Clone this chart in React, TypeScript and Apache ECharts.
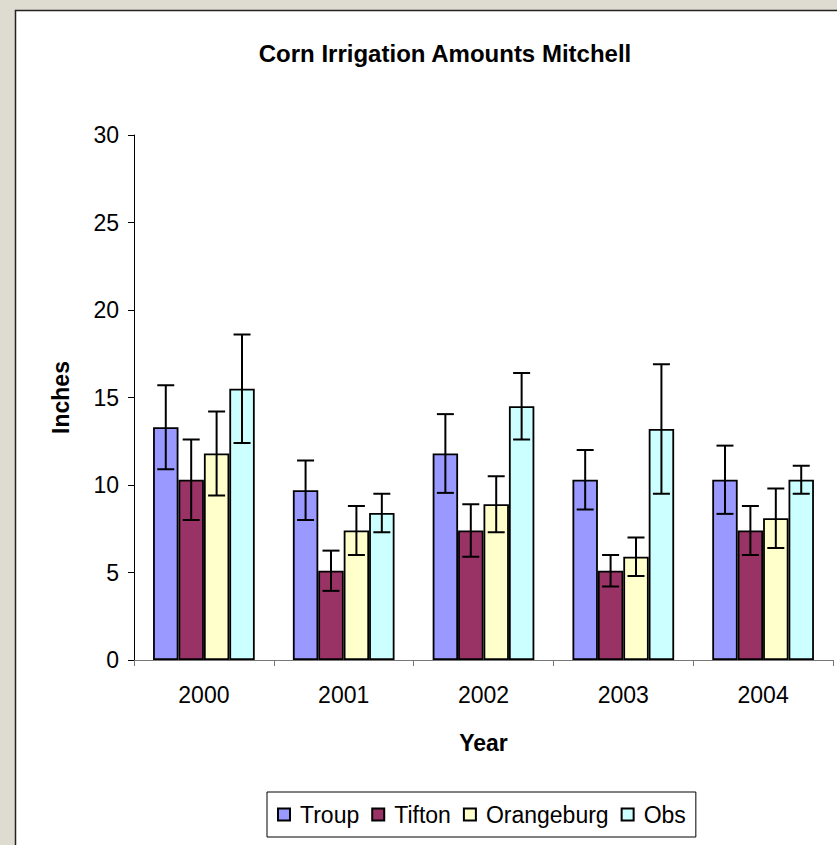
import React, { useEffect, useRef } from "react";
import * as echarts from "echarts";

const years = ["2000", "2001", "2002", "2003", "2004"];
const seriesNames = ["Troup", "Tifton", "Orangeburg", "Obs"];
const troup = [13.3, 9.7, 11.8, 10.3, 10.3];
const troupErr = [2.4, 1.7, 2.25, 1.7, 1.95];
const tifton = [10.3, 5.1, 7.4, 5.1, 7.4];
const tiftonErr = [2.3, 1.15, 1.5, 0.9, 1.4];
const orangeburg = [11.8, 7.4, 8.9, 5.9, 8.1];
const orangeburgErr = [2.4, 1.4, 1.6, 1.1, 1.7];
const obs = [15.5, 8.4, 14.5, 13.2, 10.3];
const obsErr = [3.1, 1.1, 1.9, 3.7, 0.8];
const colors = ["#9999FF", "#993366", "#FFFFCC", "#CCFFFF"];

const FONT = "'Liberation Sans', Arial, sans-serif";

export default function App() {
  const ref = useRef<HTMLDivElement>(null);
  useEffect(() => {
    if (!ref.current) return;
    const chart = echarts.init(ref.current, null, { renderer: "svg" });
    const values = [troup, tifton, orangeburg, obs];
    const errs = [troupErr, tiftonErr, orangeburgErr, obsErr];
    const errData: number[][] = [];
    values.forEach((arr, s) => {
      arr.forEach((v, c) => {
        errData.push([c, v - errs[s][c], v + errs[s][c], s]);
      });
    });
    const option: any = {
      animation: false,
      backgroundColor: "#DEDBD1",
      textStyle: { fontFamily: FONT },
      graphic: [
        {
          type: "rect",
          z: -100,
          silent: true,
          shape: { x: 15.5, y: 10.5, width: 900, height: 900 },
          style: { fill: "#fff", stroke: "#222", lineWidth: 1.5 },
        },
      ],
      title: {
        text: "Corn Irrigation Amounts Mitchell",
        left: 440,
        top: 36,
        textAlign: "center",
        textStyle: { fontFamily: FONT, fontSize: 24, fontWeight: "bold", color: "#000" },
      },
      legend: {
        data: seriesNames,
        left: 267,
        top: 792,
        padding: [11, 10],
        icon: "rect",
        itemWidth: 12,
        itemHeight: 12,
        itemGap: 12,
        borderColor: "#000",
        borderWidth: 1,
        textStyle: { fontFamily: FONT, fontSize: 23, color: "#000", padding: [0, 0, 0, 5] },
      },
      grid: { left: 134, right: 4, top: 135, bottom: 185, containLabel: false, outerBoundsMode: "none" },
      xAxis: {
        type: "category",
        data: years,
        name: "Year",
        nameLocation: "middle",
        nameGap: 71,
        nameTextStyle: { fontFamily: FONT, fontSize: 23, fontWeight: "bold", color: "#000" },
        axisLine: { lineStyle: { color: "#777", width: 1 } },
        axisTick: { show: true, length: 6, lineStyle: { color: "#777" } },
        axisLabel: { fontFamily: FONT, fontSize: 23, color: "#000", margin: 23 },
      },
      yAxis: {
        type: "value",
        min: 0,
        max: 30,
        interval: 5,
        name: "Inches",
        nameLocation: "middle",
        nameGap: 62,
        nameTextStyle: { fontFamily: FONT, fontSize: 23, fontWeight: "bold", color: "#000" },
        splitLine: { show: false },
        axisLine: { show: true, lineStyle: { color: "#000", width: 1 } },
        axisTick: { show: true, length: 6, lineStyle: { color: "#000" } },
        axisLabel: { fontFamily: FONT, fontSize: 23, color: "#000", margin: 15 },
      },
      series: [
        ...seriesNames.map((name, i) => ({
          name,
          type: "bar",
          data: values[i],
          barGap: "0%",
          barCategoryGap: "27.27%",
          itemStyle: { color: colors[i], borderColor: "#000", borderWidth: 1.8 },
        })),
        {
          type: "custom",
          name: "err",
          z: 10,
          data: errData,
          encode: { x: 0, y: [1, 2] },
          renderItem: (params: any, api: any) => {
            const c = api.value(0);
            const lo = api.value(1);
            const hi = api.value(2);
            const s = api.value(3);
            const band = api.size([1, 0])[0];
            const bw = band / 5.5;
            const cx = api.coord([c, 0])[0] + (s - 1.5) * bw;
            const yHi = api.coord([c, hi])[1];
            const yLo = api.coord([c, lo])[1];
            const cap = 8.5;
            const st = { stroke: "#000", lineWidth: 2 };
            return {
              type: "group",
              children: [
                { type: "line", shape: { x1: cx, y1: yHi, x2: cx, y2: yLo }, style: st },
                { type: "line", shape: { x1: cx - cap, y1: yHi, x2: cx + cap, y2: yHi }, style: st },
                { type: "line", shape: { x1: cx - cap, y1: yLo, x2: cx + cap, y2: yLo }, style: st },
              ],
            };
          },
        },
      ],
    };
    chart.setOption(option);
    return () => chart.dispose();
  }, []);
  return (
    <div
      ref={ref}
      style={{ position: "absolute", left: 0, top: 0, width: 837, height: 845 }}
    />
  );
}
